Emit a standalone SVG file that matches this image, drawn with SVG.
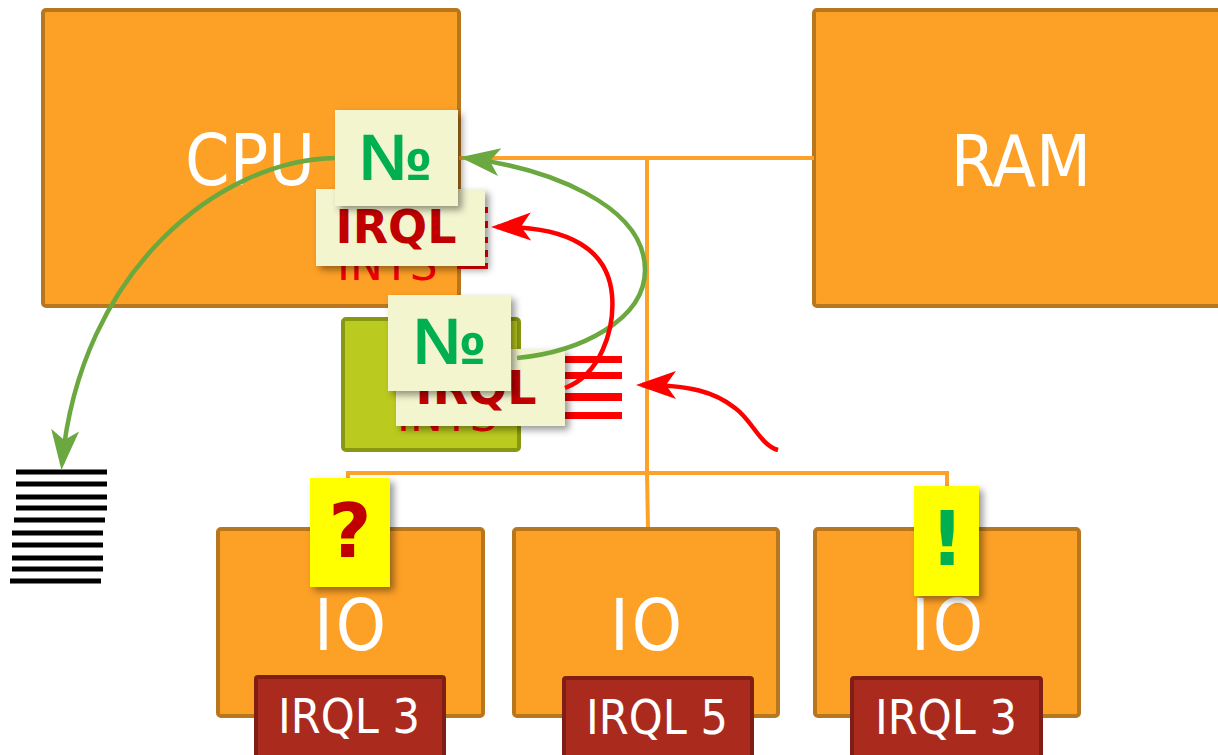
<svg xmlns="http://www.w3.org/2000/svg" width="1218" height="755" viewBox="0 0 1218 755">
<defs>
<style>
.box{fill:#FDA026;stroke:#B8771F;stroke-width:4}
.big{font-family:"DejaVu Sans Condensed","DejaVu Sans",sans-serif;font-stretch:condensed;fill:#fff;text-anchor:middle}
.irqbox{fill:#AB2A1E;stroke:#7E1E14;stroke-width:4}
.irqt{font-family:"DejaVu Sans Condensed","DejaVu Sans",sans-serif;font-stretch:condensed;font-size:48px;fill:#fff;text-anchor:middle}
.bus{fill:none;stroke:#FCA22A;stroke-width:4}
.note{fill:#F2F5CE;filter:url(#sh)}
.yel{fill:#FFFF00;filter:url(#sh)}
.no{font-family:"Liberation Sans",Arial,sans-serif;font-weight:bold;font-size:66px;fill:#00B050;text-anchor:middle}
.irql{font-family:"DejaVu Sans",sans-serif;font-weight:bold;font-size:46px;fill:#C00000;text-anchor:middle}
.ints{font-family:"DejaVu Sans",sans-serif;font-size:44px;fill:#F00000}
.rl{fill:#FF0000}
.stk{stroke:#000;stroke-width:5}
.ga{fill:none;stroke:#6BA83F;stroke-width:4.5}
.ra{fill:none;stroke:#FF0000;stroke-width:4.5}
</style>
<filter id="sh" x="-20%" y="-20%" width="150%" height="150%">
<feDropShadow dx="4" dy="4" stdDeviation="3.5" flood-color="#000" flood-opacity="0.4"/>
</filter>
<marker id="ag" markerUnits="userSpaceOnUse" markerWidth="40" markerHeight="30" viewBox="0 0 40 30" refX="34" refY="15" orient="auto">
<path d="M40,15 L0,1 L10,15 L0,29 Z" fill="#6BA83F"/>
</marker>
<marker id="ar" markerUnits="userSpaceOnUse" markerWidth="40" markerHeight="30" viewBox="0 0 40 30" refX="34" refY="15" orient="auto">
<path d="M40,15 L0,1 L10,15 L0,29 Z" fill="#FF0000"/>
</marker>
</defs>
<rect width="1218" height="755" fill="#fff"/>

<g id="cpu">
<rect class="box" x="43" y="10" width="416" height="296" rx="3"/>
<text class="big" x="250" y="185" font-size="71">CPU</text>
</g>
<g id="ram">
<rect class="box" x="814" y="10" width="410" height="296" rx="3"/>
<text class="big" x="1021" y="186" font-size="71">RAM</text>
</g>

<g id="bus">
<path class="bus" d="M459,158 H814"/>
<path class="bus" d="M647,158 V473 L648,527"/>
<path class="bus" d="M348,478 V473 H947 V490"/>
</g>

<g id="pic">
<rect x="343" y="319" width="176" height="131" rx="3" fill="#BBCA1E" stroke="#889812" stroke-width="4"/>
</g>

<g id="io1">
<rect class="box" x="218" y="529" width="265" height="187" rx="3"/>
<text class="big" x="350" y="650" font-size="71" letter-spacing="3" dx="1.5">IO</text>
</g>
<g id="io2">
<rect class="box" x="514" y="529" width="264" height="187" rx="3"/>
<text class="big" x="646" y="650" font-size="71" letter-spacing="3" dx="1.5">IO</text>
</g>
<g id="io3">
<rect class="box" x="815" y="529" width="264" height="187" rx="3"/>
<text class="big" x="947" y="650" font-size="71" letter-spacing="3" dx="1.5">IO</text>
</g>

<g id="irq1">
<rect class="irqbox" x="256" y="677" width="188" height="90" rx="2"/>
<text class="irqt" x="349" y="733">IRQL 3</text>
</g>
<g id="irq2">
<rect class="irqbox" x="564" y="678" width="188" height="90" rx="2"/>
<text class="irqt" x="657" y="734">IRQL 5</text>
</g>
<g id="irq3">
<rect class="irqbox" x="852" y="678" width="189" height="90" rx="2"/>
<text class="irqt" x="946" y="734">IRQL 3</text>
</g>

<g id="cpu-ints">
<rect class="rl" x="461" y="207" width="27" height="6"/>
<rect class="rl" x="461" y="221" width="27" height="7"/>
<rect class="rl" x="461" y="237" width="27" height="6"/>
<rect class="rl" x="461" y="250" width="27" height="7"/>
<rect class="rl" x="457" y="263" width="31" height="6"/>
<text class="ints" x="337" y="280">INTS</text>
</g>
<g id="cpu-irql">
<rect class="note" x="316" y="189" width="169" height="77"/>
<text class="irql" x="396" y="243">IRQL</text>
</g>
<g id="cpu-no">
<rect class="note" x="335" y="110" width="123" height="96"/>
<text class="no" x="396" y="180">№</text>
</g>

<g id="pic-ints">
<rect class="rl" x="520" y="356" width="102" height="7"/>
<rect class="rl" x="520" y="372" width="102" height="7"/>
<rect class="rl" x="520" y="393" width="102" height="8"/>
<rect class="rl" x="520" y="412" width="102" height="7"/>
<text class="ints" x="397" y="431" fill="#D00000">INTS</text>
</g>
<g id="pic-irql">
<rect class="note" x="396" y="349" width="169" height="77"/>
<text class="irql" x="476" y="404">IRQL</text>
</g>
<g id="pic-no">
<rect class="note" x="388" y="295" width="123" height="96"/>
<text class="no" x="450" y="364">№</text>
</g>

<g id="q">
<rect class="yel" x="310" y="478" width="80" height="109"/>
<text x="350" y="557" font-family="DejaVu Sans,sans-serif" font-weight="bold" font-size="74" fill="#C00000" text-anchor="middle">?</text>
</g>
<g id="ex">
<rect class="yel" x="914" y="486" width="65" height="110"/>
<text x="947" y="565" font-family="DejaVu Sans,sans-serif" font-weight="bold" font-size="74" fill="#00B050" text-anchor="middle">!</text>
</g>

<g id="stack">
<line class="stk" x1="16" y1="472" x2="107" y2="472"/>
<line class="stk" x1="16" y1="484" x2="107" y2="484"/>
<line class="stk" x1="16" y1="497" x2="107" y2="497"/>
<line class="stk" x1="16" y1="508" x2="107" y2="508"/>
<line class="stk" x1="14" y1="520" x2="105" y2="520"/>
<line class="stk" x1="12" y1="533" x2="103" y2="533"/>
<line class="stk" x1="12" y1="545" x2="103" y2="545"/>
<line class="stk" x1="12" y1="558" x2="103" y2="558"/>
<line class="stk" x1="12" y1="569" x2="103" y2="569"/>
<line class="stk" x1="10" y1="581" x2="101" y2="581"/>
</g>

<g id="connectors">
<path class="ga" d="M335,158 C220,160 80,270 62,464" marker-end="url(#ag)"/>
<path class="ga" d="M517,358 C580,352 645,320 645,270 C645,205 548,168 466,158" marker-end="url(#ag)"/>
<path class="ra" d="M565,388 C600,375 615,330 612,295 C608,250 570,226 497,227" marker-end="url(#ar)"/>
<path class="ra" d="M778,450 C760,445 752,420 735,408 C715,392 690,385 642,385" marker-end="url(#ar)"/>
</g>
</svg>
